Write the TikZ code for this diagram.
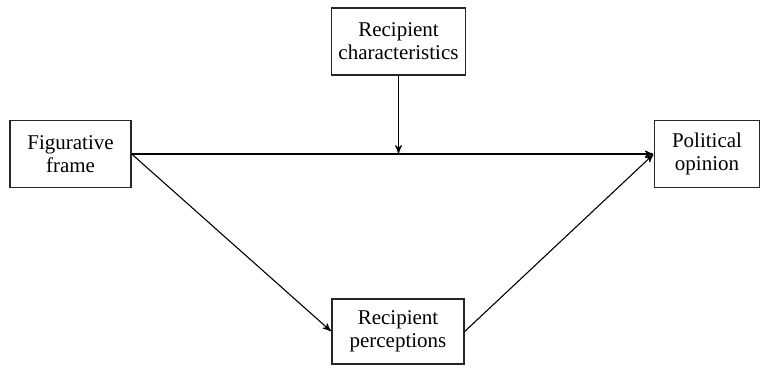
\documentclass[tikz,border=0pt]{standalone}
\usepackage{fontspec}
\setmainfont{Liberation Serif}
\usetikzlibrary{arrows,positioning}
\tikzset{
  factor/.style={
    % The shape:
    rectangle,
    % The size:
    minimum width=#1,
    minimum height=33.5pt,
    % The border:
    draw=black!85,
    line width=0.7pt,
    % The text:
    align=center,
    font=\fontsize{10.5}{11.5}\selectfont},
  factor/.default=62pt
}

\begin{document}
\begin{tikzpicture}[x=0.5pt,y=-0.5pt,>=stealth',line width=0.55pt,
                    tip/.style={->,shorten >=0.3pt}]
  \useasboundingbox (0,0) rectangle (768,368);
  \node (frame)           [factor=60.5pt] at (70.5,154)  {Figurative\\frame};
  \node (characteristics) [factor=65.5pt] at (398.5,41.5) {Recipient\\characteristics};
  \node (opinion)         [factor=52.5pt] at (707,154)   {Political\\opinion};
  \node (perceptions)     [factor=66pt,minimum height=32.5pt] at (398,331.5) {Recipient\\perceptions};

  \coordinate (moderate) at (characteristics.south |- frame.east);

  \draw[tip] (frame.east) -- (opinion.west);
  \draw[tip] (characteristics.south) -- (moderate);
  \draw[tip] (frame.east) -- (perceptions.west);
  \draw[tip] (perceptions.east) -- (opinion.west);
\end{tikzpicture}
\end{document}
